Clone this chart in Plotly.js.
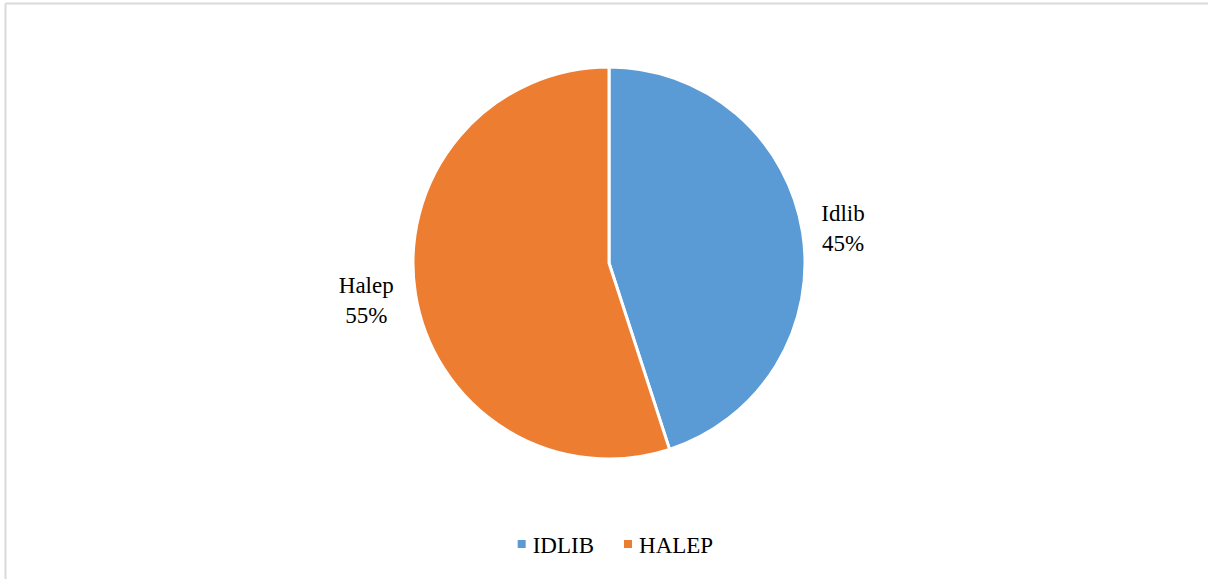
<!DOCTYPE html>
<html>
<head>
<meta charset="utf-8">
<script src="https://cdn.plot.ly/plotly-3.0.1.min.js"></script>
<style>
html,body{margin:0;padding:0;background:#fff;}
#chart{width:1208px;height:579px;}
</style>
</head>
<body>
<div id="chart"></div>
<script>
const categories = ['IDLIB', 'HALEP'];
const sliceLabels = ['Idlib', 'Halep'];
const values = [45, 55];
const colors = ['#5B9BD5', '#ED7D31'];

const W = 1208, H = 579;
const cx = 609, cy = 263, r = 196;

const trace = {
  type: 'pie',
  labels: categories,
  values: values,
  text: sliceLabels,
  texttemplate: '%{text}<br>%{percent:.0%}',
  textposition: 'outside',
  textfont: {family: 'Liberation Serif', size: 23, color: '#000'},
  sort: false,
  direction: 'clockwise',
  rotation: 0,
  marker: {colors: colors, line: {color: '#fff', width: 3}},
  domain: {x: [(cx - r) / W, (cx + r) / W], y: [1 - (cy + r) / H, 1 - (cy - r) / H]},
  hoverinfo: 'none',
  automargin: false
};

const layout = {
  width: W, height: H,
  margin: {l: 0, r: 0, t: 0, b: 0},
  paper_bgcolor: '#fff',
  showlegend: true,
  legend: {
    orientation: 'h', x: 0.5014, xanchor: 'center', y: 1 - 544 / H, yanchor: 'middle',
    font: {family: 'Liberation Serif', size: 23, color: '#000'},
    itemwidth: 30, traceorder: 'normal'
  },
  shapes: [
    {type: 'line', xref: 'paper', yref: 'paper', x0: 5.5 / W, x1: 1, y0: 1 - 3.5 / H, y1: 1 - 3.5 / H, line: {color: '#d9d9d9', width: 2}},
    {type: 'line', xref: 'paper', yref: 'paper', x0: 5.5 / W, x1: 5.5 / W, y0: 1 - 3.5 / H, y1: 0, line: {color: '#d9d9d9', width: 2}}
  ]
};

// small nudges of the outside labels to match the reference placement
const labelNudge = [[5, -3], [-8, 6]];

Plotly.newPlot('chart', [trace], layout, {displayModeBar: false, staticPlot: true}).then(() => {
  document.querySelectorAll('.legendpoints path').forEach(p => {
    p.setAttribute('d', 'M13,4H5V-4H13Z');
    p.style.strokeWidth = '0px';
  });
  document.querySelectorAll('.slicetext text').forEach((t, i) => {
    const n = labelNudge[i] || [0, 0];
    const tr = t.getAttribute('transform') || '';
    t.setAttribute('transform', 'translate(' + n[0] + ',' + n[1] + ') ' + tr);
  });
});
</script>
</body>
</html>
